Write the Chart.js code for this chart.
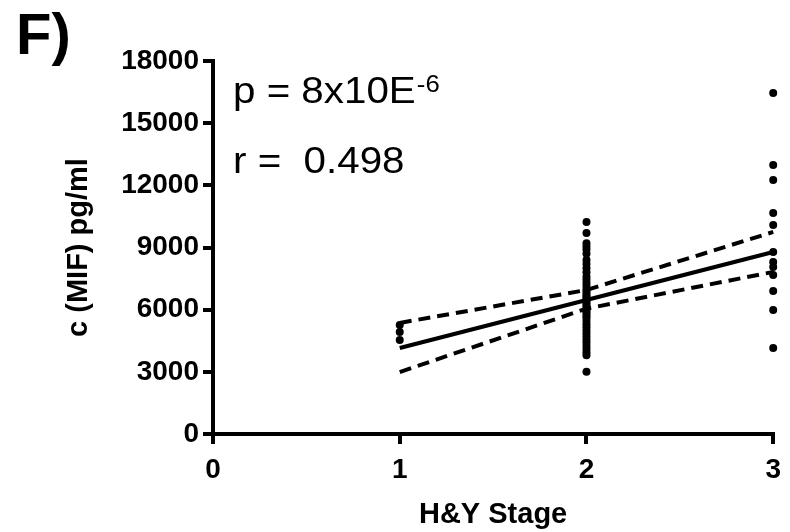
<!DOCTYPE html>
<html>
<head>
<meta charset="utf-8">
<script src="https://cdn.jsdelivr.net/npm/chart.js@4.4.1/dist/chart.umd.min.js"></script>
<style>
  html, body { margin: 0; padding: 0; background: #fff; }
  #wrap { width: 790px; height: 532px; }
</style>
</head>
<body>
<div id="wrap"><canvas id="chart" width="790" height="532"></canvas></div>
<script>
'use strict';

// H&Y stage groups and MIF values (pg/ml)
const stage1Values = [5260, 4920, 4540];
const stage2Values = [
  10230, 9700, 9200, 9050, 8900, 8700, 8400, 8200, 8000, 7800, 7600, 7450,
  7300, 7150, 7000, 6900, 6800, 6700, 6600, 6500, 6400, 6300, 6200, 6100,
  6000, 5900, 5800, 5700, 5600, 5450, 5300, 5150, 5000, 4850, 4700, 4550,
  4400, 4250, 4100, 3950, 3800, 3000,
];
const stage3Values = [16450, 12980, 12260, 10670, 10090, 8780, 8300, 8060, 7670, 6900, 5980, 4150];

// regression line and 95% band
const fitStages = [1, 2, 3];
const fitLine = [4150, 6465, 8780];
const upperBand = [5360, 6950, 9750];
const lowerBand = [2990, 6050, 7820];

const xTicks = [0, 1, 2, 3];
const yTicks = [0, 3000, 6000, 9000, 12000, 15000, 18000];

const pText = 'p = 8x10E';
const pSup = '-6';
const rText = 'r =  0.498';

function toPoints(stage, values) {
  return values.map((v) => ({ x: stage, y: v }));
}

const scatterPoints = [
  ...toPoints(1, stage1Values),
  ...toPoints(2, stage2Values),
  ...toPoints(3, stage3Values),
];

function linePoints(ys) {
  return fitStages.map((s, i) => ({ x: s, y: ys[i] }));
}

const FONT = '"Liberation Sans", Arial, Helvetica, sans-serif';

// text outside the axes: panel letter and stats
const annotations = {
  id: 'annotations',
  afterDraw(chart) {
    const ctx = chart.ctx;
    ctx.save();
    ctx.fillStyle = '#000';
    ctx.textBaseline = 'alphabetic';
    ctx.textAlign = 'left';

    ctx.font = `bold 58px ${FONT}`;
    ctx.fillText('F)', 16, 54);

    ctx.font = `36px ${FONT}`;
    ctx.save();
    ctx.translate(233, 103);
    ctx.scale(1.12, 1);
    ctx.fillText(pText, 0, 0);
    const w = ctx.measureText(pText).width;
    ctx.font = `23px ${FONT}`;
    ctx.fillText(pSup, w + 1, -11);
    ctx.restore();

    ctx.font = `36px ${FONT}`;
    ctx.save();
    ctx.translate(233, 173);
    ctx.scale(1.12, 1);
    ctx.fillText(rText, 0, 0);
    ctx.restore();

    ctx.restore();
  },
};

const ctxEl = document.getElementById('chart');

const axisGrid = {
  drawOnChartArea: false,
  drawTicks: true,
  tickLength: 10,
  tickWidth: 4,
  tickColor: '#000',
  color: '#000',
  lineWidth: 4,
};

// eslint-disable-next-line no-new,no-undef
new Chart(ctxEl, {
  type: 'scatter',
  data: {
    datasets: [
      {
        label: 'MIF',
        data: scatterPoints,
        pointRadius: 4,
        pointHoverRadius: 4,
        backgroundColor: '#000',
        borderColor: '#000',
        borderWidth: 0,
        clip: false,
        order: 0,
      },
      {
        type: 'line',
        label: 'fit',
        data: linePoints(fitLine),
        borderColor: '#000',
        borderWidth: 4,
        pointRadius: 0,
        fill: false,
        clip: false,
        order: 1,
      },
      {
        type: 'line',
        label: 'upper',
        data: linePoints(upperBand),
        borderColor: '#000',
        borderWidth: 4,
        borderDash: [12, 7],
        pointRadius: 0,
        fill: false,
        clip: false,
        order: 1,
      },
      {
        type: 'line',
        label: 'lower',
        data: linePoints(lowerBand),
        borderColor: '#000',
        borderWidth: 4,
        borderDash: [12, 7],
        pointRadius: 0,
        fill: false,
        clip: false,
        order: 1,
      },
    ],
  },
  options: {
    responsive: false,
    animation: false,
    events: [],
    layout: { padding: { left: 0, right: 15, top: 61, bottom: 0 } },
    plugins: {
      legend: { display: false },
      tooltip: { enabled: false },
    },
    scales: {
      x: {
        type: 'linear',
        min: 0,
        max: 3,
        afterBuildTicks(scale) {
          scale.ticks = xTicks.map((v) => ({ value: v }));
        },
        afterFit(scale) {
          scale.height = 98;
        },
        ticks: {
          color: '#000',
          padding: 9,
          font: { family: FONT, size: 28, weight: 'bold' },
          callback: (v) => String(v),
        },
        grid: axisGrid,
        border: { display: true, color: '#000', width: 4 },
        title: {
          display: true,
          text: 'H&Y Stage',
          color: '#000',
          font: { family: FONT, size: 29, weight: 'bold', lineHeight: 1.2 },
          padding: { top: 0, bottom: 0 },
        },
      },
      y: {
        type: 'linear',
        min: 0,
        max: 18000,
        afterBuildTicks(scale) {
          scale.ticks = yTicks.map((v) => ({ value: v }));
        },
        afterFit(scale) {
          scale.width = 213;
        },
        ticks: {
          color: '#000',
          padding: 4,
          font: { family: FONT, size: 28, weight: 'bold' },
          callback: (v) => String(v),
        },
        grid: axisGrid,
        border: { display: true, color: '#000', width: 4 },
        title: {
          display: true,
          text: 'c (MIF) pg/ml',
          color: '#000',
          font: { family: FONT, size: 29, weight: 'bold', lineHeight: 1.2 },
          padding: { top: 62, bottom: 0 },
        },
      },
    },
  },
  plugins: [annotations],
});
</script>
</body>
</html>
